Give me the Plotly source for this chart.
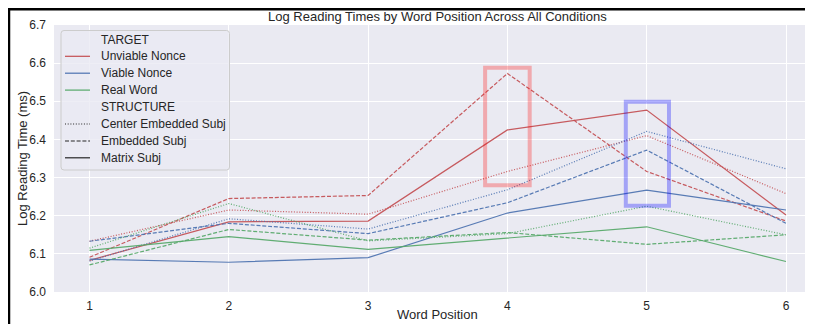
import plotly.graph_objects as go

# ---------------- data ----------------
positions = [1, 2, 3, 4, 5, 6]
targets = ["Unviable Nonce", "Viable Nonce", "Real Word"]
structures = ["Center Embedded Subj", "Embedded Subj", "Matrix Subj"]

unviable_center = [6.133, 6.215, 6.204, 6.316, 6.410, 6.258]
unviable_embedded = [6.091, 6.245, 6.253, 6.573, 6.316, 6.186]
unviable_matrix = [6.083, 6.184, 6.186, 6.425, 6.477, 6.202]

viable_center = [6.081, 6.192, 6.165, 6.268, 6.421, 6.323]
viable_embedded = [6.133, 6.180, 6.153, 6.234, 6.372, 6.180]
viable_matrix = [6.086, 6.078, 6.090, 6.207, 6.267, 6.215]

real_center = [6.115, 6.232, 6.134, 6.153, 6.225, 6.150]
real_embedded = [6.071, 6.164, 6.136, 6.156, 6.125, 6.150]
real_matrix = [6.109, 6.145, 6.112, 6.142, 6.171, 6.080]

y_ticks = [6.0, 6.1, 6.2, 6.3, 6.4, 6.5, 6.6, 6.7]
x_ticks = [1, 2, 3, 4, 5, 6]

# highlight boxes (x0, x1, y0, y1)
box_red = [3.84, 4.16, 6.28, 6.588]
box_blue = [4.85, 5.16, 6.226, 6.499]

# ---------------- style ----------------
colors = {"Unviable Nonce": "#C44E52", "Viable Nonce": "#4C72B0", "Real Word": "#55A868"}
dashes = {"Center Embedded Subj": "1px,1.7px", "Embedded Subj": "4px,1.8px", "Matrix Subj": "solid"}
series = {
    ("Unviable Nonce", "Center Embedded Subj"): unviable_center,
    ("Unviable Nonce", "Embedded Subj"): unviable_embedded,
    ("Unviable Nonce", "Matrix Subj"): unviable_matrix,
    ("Viable Nonce", "Center Embedded Subj"): viable_center,
    ("Viable Nonce", "Embedded Subj"): viable_embedded,
    ("Viable Nonce", "Matrix Subj"): viable_matrix,
    ("Real Word", "Center Embedded Subj"): real_center,
    ("Real Word", "Embedded Subj"): real_embedded,
    ("Real Word", "Matrix Subj"): real_matrix,
}

OFF = 8  # page body margin
W, H = 813 - OFF, 324 - OFF
ML, MR, MT = 54 - OFF, 0, 25 - OFF
MB = H - (292 - OFF)
PW = W - ML - MR
PH = H - MT - MB
FONT = "Liberation Sans, Arial, sans-serif"
TXT = "#262626"


def px(wx):  # window pixel x -> paper
    return (wx - OFF - ML) / PW


def py(wy):  # window pixel y -> paper
    return (H - MB - (wy - OFF)) / PH


fig = go.Figure()
for (t, s), vals in series.items():
    fig.add_trace(go.Scatter(
        x=positions, y=vals, mode="lines",
        line=dict(color=colors[t], width=1.2, dash=dashes[s]),
        opacity=0.92, showlegend=False, hoverinfo="skip",
    ))

shapes = []
shapes.append(dict(type="rect", xref="x", yref="y", x0=box_red[0], x1=box_red[1],
                   y0=box_red[2], y1=box_red[3],
                   line=dict(color="rgba(255,0,0,0.28)", width=4), layer="above"))
shapes.append(dict(type="rect", xref="x", yref="y", x0=box_blue[0], x1=box_blue[1],
                   y0=box_blue[2], y1=box_blue[3],
                   line=dict(color="rgba(0,0,255,0.30)", width=4), layer="above"))

# legend box
lx0, lx1, ly0, ly1 = 61, 229.5, 30.5, 170
r = 3
path = (f"M {px(lx0 + r)},{py(ly0)} L {px(lx1 - r)},{py(ly0)} "
        f"Q {px(lx1)},{py(ly0)} {px(lx1)},{py(ly0 + r)} "
        f"L {px(lx1)},{py(ly1 - r)} Q {px(lx1)},{py(ly1)} {px(lx1 - r)},{py(ly1)} "
        f"L {px(lx0 + r)},{py(ly1)} Q {px(lx0)},{py(ly1)} {px(lx0)},{py(ly1 - r)} "
        f"L {px(lx0)},{py(ly0 + r)} Q {px(lx0)},{py(ly0)} {px(lx0 + r)},{py(ly0)} Z")
shapes.append(dict(type="path", xref="paper", yref="paper", path=path,
                   fillcolor="rgba(234,234,242,0.8)", line=dict(color="#cccccc", width=1),
                   layer="above"))

rows = [39.5, 56.3, 73.2, 90.1, 107.0, 124.0, 141.0, 157.8]
entries = [("TARGET", None, None)] + [(t, colors[t], "solid") for t in targets] + \
          [("STRUCTURE", None, None)] + [(s, TXT, dashes[s]) for s in structures]

annotations = []
for (label, col, dash), yy in zip(entries, rows):
    if col is not None:
        shapes.append(dict(type="line", xref="paper", yref="paper",
                           x0=px(65), x1=px(90), y0=py(yy), y1=py(yy),
                           line=dict(color=col, width=1.2, dash=dash), layer="above"))
    annotations.append(dict(text=label, xref="paper", yref="paper", x=px(99), y=py(yy),
                            xanchor="left", yanchor="middle", showarrow=False,
                            font=dict(family=FONT, size=12, color=TXT)))

# black frame (left and top)
shapes.append(dict(type="line", xref="paper", yref="paper", x0=px(9), x1=px(9),
                   y0=py(8), y1=py(330), line=dict(color="black", width=2.5), layer="above"))
shapes.append(dict(type="line", xref="paper", yref="paper", x0=px(8), x1=px(820),
                   y0=py(9.2), y1=py(9.2), line=dict(color="black", width=2.5), layer="above"))

# titles
annotations.append(dict(text="Log Reading Times by Word Position Across All Conditions",
                        xref="paper", yref="paper", x=px(437.5), y=py(16.5),
                        xanchor="center", yanchor="middle", showarrow=False,
                        font=dict(family=FONT, size=13, color=TXT)))
annotations.append(dict(text="Word Position", xref="paper", yref="paper",
                        x=px(437.5), y=py(314.5), xanchor="center", yanchor="middle",
                        showarrow=False, font=dict(family=FONT, size=13, color=TXT)))
annotations.append(dict(text="Log Reading Time (ms)", xref="paper", yref="paper",
                        x=px(22.5), y=py(158.5), xanchor="center", yanchor="middle",
                        textangle=-90, showarrow=False,
                        font=dict(family=FONT, size=13, color=TXT)))

fig.update_layout(
    width=W, height=H,
    margin=dict(l=ML, r=MR, t=MT, b=MB, pad=0, autoexpand=False),
    paper_bgcolor="white", plot_bgcolor="#EAEAF2",
    font=dict(family=FONT, size=12, color=TXT),
    shapes=shapes, annotations=annotations, showlegend=False,
    xaxis=dict(range=[1 - 35.5 / 139.3, 1 + 723.5 / 139.3], tickvals=x_ticks,
               ticktext=[str(v) for v in x_ticks], showgrid=True, gridcolor="white",
               gridwidth=1, zeroline=False, showline=False, ticks="",
               ticklabelstandoff=5, tickfont=dict(size=12, color=TXT)),
    yaxis=dict(range=[6.0, 6.7], tickvals=y_ticks,
               ticktext=[f"{v:.1f}" for v in y_ticks], showgrid=True, gridcolor="white",
               gridwidth=1, zeroline=False, showline=False, ticks="",
               ticklabelstandoff=7, tickfont=dict(size=12, color=TXT)),
)

fig.write_html("out.html")
